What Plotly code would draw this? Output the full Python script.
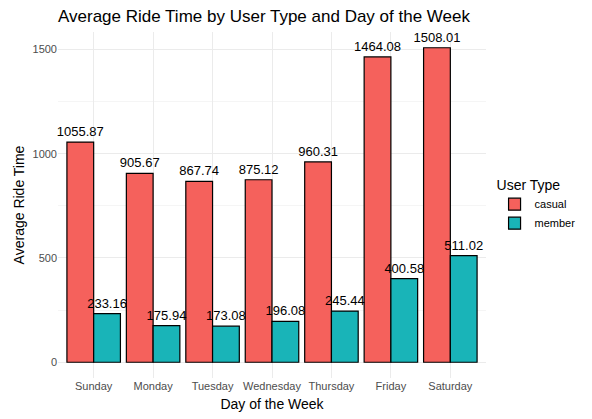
import plotly.graph_objects as go

days = ["Sunday", "Monday", "Tuesday", "Wednesday", "Thursday", "Friday", "Saturday"]
casual = [1055.87, 905.67, 867.74, 875.12, 960.31, 1464.08, 1508.01]
member = [233.16, 175.94, 173.08, 196.08, 245.44, 400.58, 511.02]

fig = go.Figure()
fig.add_trace(go.Bar(x=days, y=casual, name="casual",
                     marker=dict(color="#F5615C", line=dict(color="black", width=1.2)),
                     text=[f"{v:.2f}" for v in casual], textposition="outside",
                     constraintext="none",
                     textfont=dict(color="black", size=13), cliponaxis=False))
fig.add_trace(go.Bar(x=days, y=member, name="member",
                     marker=dict(color="#19B4B8", line=dict(color="black", width=1.2)),
                     text=[f"{v:.2f}" for v in member], textposition="outside",
                     constraintext="none",
                     textfont=dict(color="black", size=13), cliponaxis=False))

fig.update_layout(
    width=592, height=419,
    barmode="group", bargap=0.1, bargroupgap=0,
    plot_bgcolor="white", paper_bgcolor="white",
    font=dict(family="Liberation Sans, Arial, sans-serif", color="black"),
    title=dict(text="Average Ride Time by User Type and Day of the Week",
               xref="paper", x=0, xanchor="left", y=0.995, yanchor="top",
               font=dict(size=17)),
    margin=dict(l=50, r=114, t=24, b=49),
    legend=dict(title=dict(text="User Type", font=dict(size=14)),
                x=1.02, xanchor="left", y=0.5, yanchor="middle",
                font=dict(size=11), tracegroupgap=0),
)
fig.update_xaxes(title=dict(text="Day of the Week", font=dict(size=14), standoff=8),
                 range=[-0.6, 6.6], showgrid=True, gridcolor="#EBEBEB",
                 tickfont=dict(size=11, color="#4D4D4D"), ticks="", zeroline=False,
                 automargin=False)
fig.update_yaxes(title=dict(text="Average Ride Time", font=dict(size=14), standoff=4),
                 range=[-75.4, 1583.4], dtick=500, tick0=0,
                 showgrid=True, gridcolor="#EBEBEB", gridwidth=1,
                 minor=dict(dtick=250, tick0=250, showgrid=True, gridcolor="#F5F5F5", gridwidth=0.6),
                 tickfont=dict(size=11, color="#4D4D4D"), ticks="", zeroline=False,
                 automargin=False)

fig.write_html("out.html")
